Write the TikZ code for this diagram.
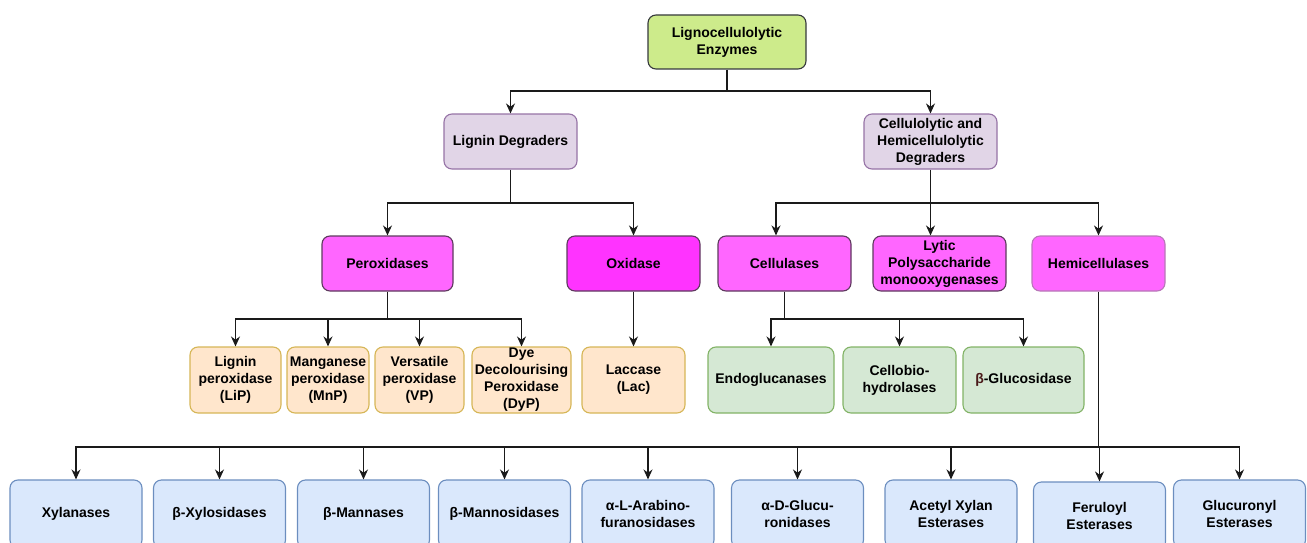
\documentclass[tikz,border=0pt]{standalone}
\usepackage{fontspec}
\setmainfont{Liberation Sans}
\usetikzlibrary{arrows.meta}
\definecolor{rootfill}{HTML}{CDEB8B}
\definecolor{rootdraw}{HTML}{36393D}
\definecolor{degfill}{HTML}{E1D5E7}
\definecolor{degdraw}{HTML}{9673A6}
\definecolor{pinkfill}{HTML}{FF66FF}
\definecolor{magfill}{HTML}{FF33FF}
\definecolor{pinkdraw}{HTML}{5E3A5E}
\definecolor{hemidraw}{HTML}{B878B8}
\definecolor{orfill}{HTML}{FFE6CC}
\definecolor{ordraw}{HTML}{D6B656}
\definecolor{grfill}{HTML}{D5E8D4}
\definecolor{grdraw}{HTML}{82B366}
\definecolor{blfill}{HTML}{DAE8FC}
\definecolor{bldraw}{HTML}{6C8EBF}
\definecolor{linecol}{HTML}{1A1A1A}
\definecolor{betacol}{HTML}{4A1A1A}
\tikzset{
  box/.style={draw, rounded corners=8pt, line width=1.1pt, align=center,
    inner sep=1pt, font=\bfseries\fontsize{14}{17}\selectfont},
  rootbox/.style={box, fill=rootfill, draw=rootdraw},
  degbox/.style={box, fill=degfill, draw=degdraw},
  pinkbox/.style={box, fill=pinkfill, draw=pinkdraw},
  orbox/.style={box, fill=orfill, draw=ordraw},
  grbox/.style={box, fill=grfill, draw=grdraw},
  blbox/.style={box, fill=blfill, draw=bldraw},
  conn/.style={draw=linecol, line width=1.3pt},
  arr/.style={conn, -{Stealth[length=10pt,width=9pt]}}
}
\begin{document}
\begin{tikzpicture}[x=1pt,y=-1pt]
\useasboundingbox (0,0) rectangle (1307,543);
\clip (0,0) rectangle (1307,543);
% level 0
\node[rootbox, minimum width=158, minimum height=54] (root) at (727,42) {Lignocellulolytic\\Enzymes};
% level 1
\node[degbox, minimum width=133, minimum height=55] (ligdeg) at (510.5,141.5) {Lignin Degraders};
\node[degbox, minimum width=133, minimum height=55] (celdeg) at (930.5,141.5) {Cellulolytic and\\Hemicellulolytic\\Degraders};
% level 2
\node[pinkbox, minimum width=131, minimum height=55] (perox) at (387.5,263.5) {Peroxidases};
\node[pinkbox, fill=magfill, minimum width=133, minimum height=55] (oxid) at (633.5,263.5) {Oxidase};
\node[pinkbox, minimum width=133, minimum height=55] (cellu) at (784.5,263.5) {Cellulases};
\node[pinkbox, minimum width=133, minimum height=55] (lytic) at (939.5,263.5) {Lytic\\Polysaccharide\\monooxygenases};
\node[pinkbox, draw=hemidraw, minimum width=133, minimum height=55] (hemi) at (1098.5,263.5) {Hemicellulases};
% level 3
\node[orbox, minimum width=91, minimum height=66] (lip) at (235.5,380) {Lignin\\peroxidase\\(LiP)};
\node[orbox, minimum width=82, minimum height=66] (mnp) at (328,380) {Manganese\\peroxidase\\(MnP)};
\node[orbox, minimum width=89, minimum height=66] (vp) at (419.5,380) {Versatile\\peroxidase\\(VP)};
\node[orbox, minimum width=99, minimum height=66] (dyp) at (521.5,380) {Dye\\Decolourising\\Peroxidase\\(DyP)};
\node[orbox, minimum width=103, minimum height=66] (lac) at (633.5,380) {Laccase\\(Lac)};
\node[grbox, minimum width=126, minimum height=66] (endo) at (771,380) {Endoglucanases};
\node[grbox, minimum width=113, minimum height=66] (cbh) at (899.5,380) {Cellobio-\\hydrolases};
\node[grbox, minimum width=121, minimum height=66] (bgl) at (1023.5,380) {{\color{betacol}β}-Glucosidase};
% level 4
\node[blbox, minimum width=132, minimum height=68] (xyl) at (76,514) {Xylanases};
\node[blbox, minimum width=132, minimum height=68] (bxyl) at (219.5,514) {β-Xylosidases};
\node[blbox, minimum width=132, minimum height=68] (bman) at (363.5,514) {β-Mannases};
\node[blbox, minimum width=132, minimum height=68] (bmano) at (504.5,514) {β-Mannosidases};
\node[blbox, minimum width=132, minimum height=68] (arab) at (648,514) {α-L-Arabino-\\furanosidases};
\node[blbox, minimum width=132, minimum height=68] (gluc) at (797.5,514) {α-D-Glucu-\\ronidases};
\node[blbox, minimum width=132, minimum height=68] (acet) at (951,514) {Acetyl Xylan\\Esterases};
\node[blbox, minimum width=132, minimum height=68] (fer) at (1099.5,516) {Feruloyl\\Esterases};
\node[blbox, minimum width=132, minimum height=68] (glcest) at (1239.5,514) {Glucuronyl\\Esterases};
% bus coordinates
\coordinate (b1) at (727,91);
\coordinate (b2) at (510.5,203);
\coordinate (b3) at (930.5,203);
\coordinate (b4) at (387.5,319);
\coordinate (b5) at (784.5,319);
\coordinate (b6) at (1098.5,447);
% connectors
\draw[conn] (root.south) -- (b1);
\draw[arr] (b1) -| (ligdeg.north);
\draw[arr] (b1) -| (celdeg.north);
\draw[conn] (ligdeg.south) -- (b2);
\draw[arr] (b2) -| (perox.north);
\draw[arr] (b2) -| (oxid.north);
\draw[conn] (celdeg.south) -- (b3);
\draw[arr] (b3) -| ([xshift=-8.5pt]cellu.north);
\draw[arr] (b3) -- (b3 |- lytic.north);
\draw[arr] (b3) -| (hemi.north);
\draw[conn] (perox.south) -- (b4);
\draw[arr] (b4) -| (lip.north);
\draw[arr] (b4) -| (mnp.north);
\draw[arr] (b4) -| (vp.north);
\draw[arr] (b4) -| (dyp.north);
\draw[arr] (oxid.south) -- (lac.north);
\draw[conn] (cellu.south) -- (b5);
\draw[arr] (b5) -| (endo.north);
\draw[arr] (b5) -| (cbh.north);
\draw[arr] (b5) -| (bgl.north);
\draw[conn] (hemi.south) -- (b6);
\draw[arr] (b6) -| (xyl.north);
\draw[arr] (b6) -| (bxyl.north);
\draw[arr] (b6) -| (bman.north);
\draw[arr] (b6) -| (bmano.north);
\draw[arr] (b6) -| (arab.north);
\draw[arr] (b6) -| (gluc.north);
\draw[arr] (b6) -| (acet.north);
\draw[arr] (b6) -| (fer.north);
\draw[arr] (b6) -| (glcest.north);
\end{tikzpicture}
\end{document}
